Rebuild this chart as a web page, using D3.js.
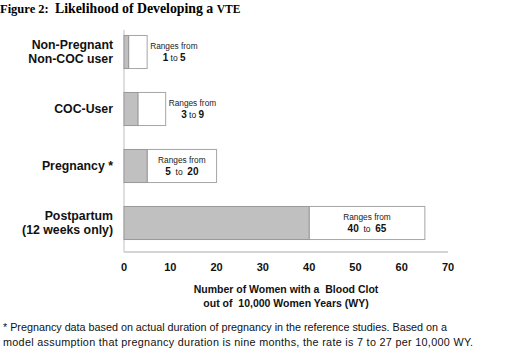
<!DOCTYPE html>
<html><head><meta charset="utf-8">
<script src="https://cdn.jsdelivr.net/npm/d3@7"></script>
<style>body{margin:0;background:#fff}svg{display:block}</style>
</head><body><svg id="c" width="530" height="356"></svg>
<script>
const categories = ["Non-Pregnant\nNon-COC user", "COC-User", "Pregnancy *", "Postpartum\n(12 weeks only)"];
const lowValues = [1, 3, 5, 40];
const highValues = [5, 9, 20, 65];
const xTicks = [0, 10, 20, 30, 40, 50, 60, 70];
const rangeLabel = "Ranges from";
const xTitle = ["Number of Women with a  Blood Clot", "out of  10,000 Women Years (WY)"];
const footnote = ["* Pregnancy data based on actual duration of pregnancy in the reference studies. Based on a",
  "model assumption that pregnancy duration is nine months, the rate is 7 to 27 per 10,000 WY."];

const svg = d3.select("#c");
const x = d3.scaleLinear().domain([0, 70]).range([124, 448]);
const y = d3.scaleBand().domain(categories).range([23.5, 251.5]).paddingInner(0.42).paddingOuter(0.21);

// title
const t = svg.append("text").attr("x", 0).attr("y", 13).attr("font-family", "Liberation Serif, Times New Roman, serif").attr("font-weight", "bold").attr("xml:space", "preserve");
t.append("tspan").attr("font-size", 12.5).text("Figure 2:  ");
t.append("tspan").attr("font-size", 13.8).text("Likelihood of Developing a ");
t.append("tspan").attr("font-size", 11.5).text("VTE");

// axes lines
svg.append("line").attr("x1", x(0)).attr("x2", x(0)).attr("y1", 30).attr("y2", 252).attr("stroke", "#d4d4d4").attr("stroke-width", 1.5);
svg.append("line").attr("x1", x(0)).attr("x2", x(70)).attr("y1", 252).attr("y2", 252).attr("stroke", "#d4d4d4").attr("stroke-width", 2);

const g = svg.append("g");
const bw = y.bandwidth();
categories.forEach((c, i) => {
  const y0 = y(c);
  g.append("rect").attr("x", x(lowValues[i])).attr("y", y0).attr("width", x(highValues[i]) - x(lowValues[i])).attr("height", bw)
    .attr("fill", "#fff").attr("stroke", "#a6a6a6").attr("stroke-width", 1);
  g.append("rect").attr("x", x(0)).attr("y", y0).attr("width", x(lowValues[i]) - x(0)).attr("height", bw)
    .attr("fill", "#c0c0c0").attr("stroke", "#999").attr("stroke-width", 1);
  const w = x(highValues[i]) - x(lowValues[i]);
  let lx, anchor;
  if (w < 60) { lx = x(highValues[i]) + 3; anchor = "start"; }
  else { lx = (x(lowValues[i]) + x(highValues[i])) / 2; anchor = "middle"; }
  const cy = y0 + bw / 2;
  const tt = g.append("text").attr("font-family", "Liberation Sans, Arial, sans-serif").attr("font-size", 8.3).attr("fill", "#222");
  tt.append("tspan").attr("x", lx).attr("y", cy - 3).attr("text-anchor", anchor).text(rangeLabel);
  const l2 = g.append("text").attr("font-family", "Liberation Sans, Arial, sans-serif").attr("font-size", 8.5).attr("fill", "#111")
    .attr("x", anchor === "start" ? lx + 24 : lx).attr("y", cy + 9).attr("text-anchor", "middle").attr("xml:space", "preserve");
  const sp = i >= 2 ? "  " : " ";
  l2.append("tspan").attr("font-weight", "bold").attr("font-size", 10).text(lowValues[i]);
  l2.append("tspan").text(sp + "to" + sp);
  l2.append("tspan").attr("font-weight", "bold").attr("font-size", 10).text(highValues[i]);
  // category label
  const lines = c.split("\n");
  const lt = g.append("text").attr("font-family", "Liberation Sans, Arial, sans-serif").attr("font-weight", "bold").attr("font-size", 12.3)
    .attr("text-anchor", "end").attr("fill", "#111");
  lines.forEach((ln, k) => {
    lt.append("tspan").attr("x", 113).attr("y", cy + 4 + (k - (lines.length - 1) / 2) * 14).text(ln);
  });
});

// x tick labels
svg.append("g").selectAll("text").data(xTicks).join("text")
  .attr("x", d => x(d)).attr("y", 271).attr("text-anchor", "middle")
  .attr("font-family", "Liberation Sans, Arial, sans-serif").attr("font-weight", "bold").attr("font-size", 11).attr("fill", "#111")
  .text(d => d);

// x title
svg.append("g").selectAll("text").data(xTitle).join("text")
  .attr("x", 286).attr("y", (d, i) => 293 + i * 13.5).attr("text-anchor", "middle").attr("xml:space", "preserve")
  .attr("font-family", "Liberation Sans, Arial, sans-serif").attr("font-weight", "bold").attr("font-size", 10.5).attr("fill", "#111")
  .text(d => d);

// footnote
const fnWidths = [444, 470];
svg.append("g").selectAll("text").data(footnote).join("text")
  .attr("x", 3).attr("y", (d, i) => 331 + i * 15)
  .attr("font-family", "Liberation Sans, Arial, sans-serif").attr("font-size", 10.8).attr("fill", "#111")
  .attr("textLength", (d, i) => fnWidths[i]).attr("lengthAdjust", "spacing")
  .text(d => d);
</script></body></html>
